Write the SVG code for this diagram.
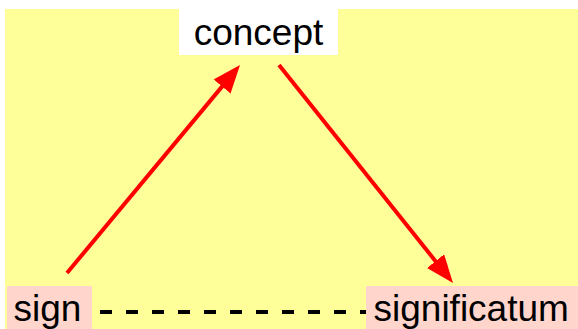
<svg xmlns="http://www.w3.org/2000/svg" width="578" height="329" viewBox="0 0 578 329">
<style>
.lbl{font-family:"Liberation Sans",Arial,sans-serif;font-size:37px;fill:#000}
.arrow{stroke:#FF0000;stroke-width:4;fill:none}
</style>
<defs>
<marker id="ah" markerUnits="userSpaceOnUse" markerWidth="28" markerHeight="22" refX="8" refY="11" orient="auto">
<path d="M0,0 L28,11 L0,22 z" fill="#FF0000"/>
</marker>
</defs>
<rect x="5" y="9" width="573" height="320" fill="#FFFF99"/>
<g id="connectors">
<line class="arrow" x1="67" y1="273" x2="227.2" y2="80.4" marker-end="url(#ah)"/>
<line class="arrow" x1="279" y1="65" x2="440.5" y2="267.4" marker-end="url(#ah)"/>
<line x1="100" y1="312" x2="366" y2="312" stroke="#000" stroke-width="4" stroke-dasharray="12 14"/>
</g>
<g id="concept">
<rect x="179" y="9" width="159" height="46" fill="#FFFFFF"/>
<text class="lbl" x="258.5" y="45" text-anchor="middle">concept</text>
</g>
<g id="sign">
<rect x="7" y="286" width="85" height="43" fill="#FFD5CC"/>
<text class="lbl" x="13.5" y="321">sign</text>
</g>
<g id="significatum">
<rect x="366" y="286" width="212" height="43" fill="#FFD5CC"/>
<text class="lbl" x="373.5" y="321">significatum</text>
</g>
</svg>
